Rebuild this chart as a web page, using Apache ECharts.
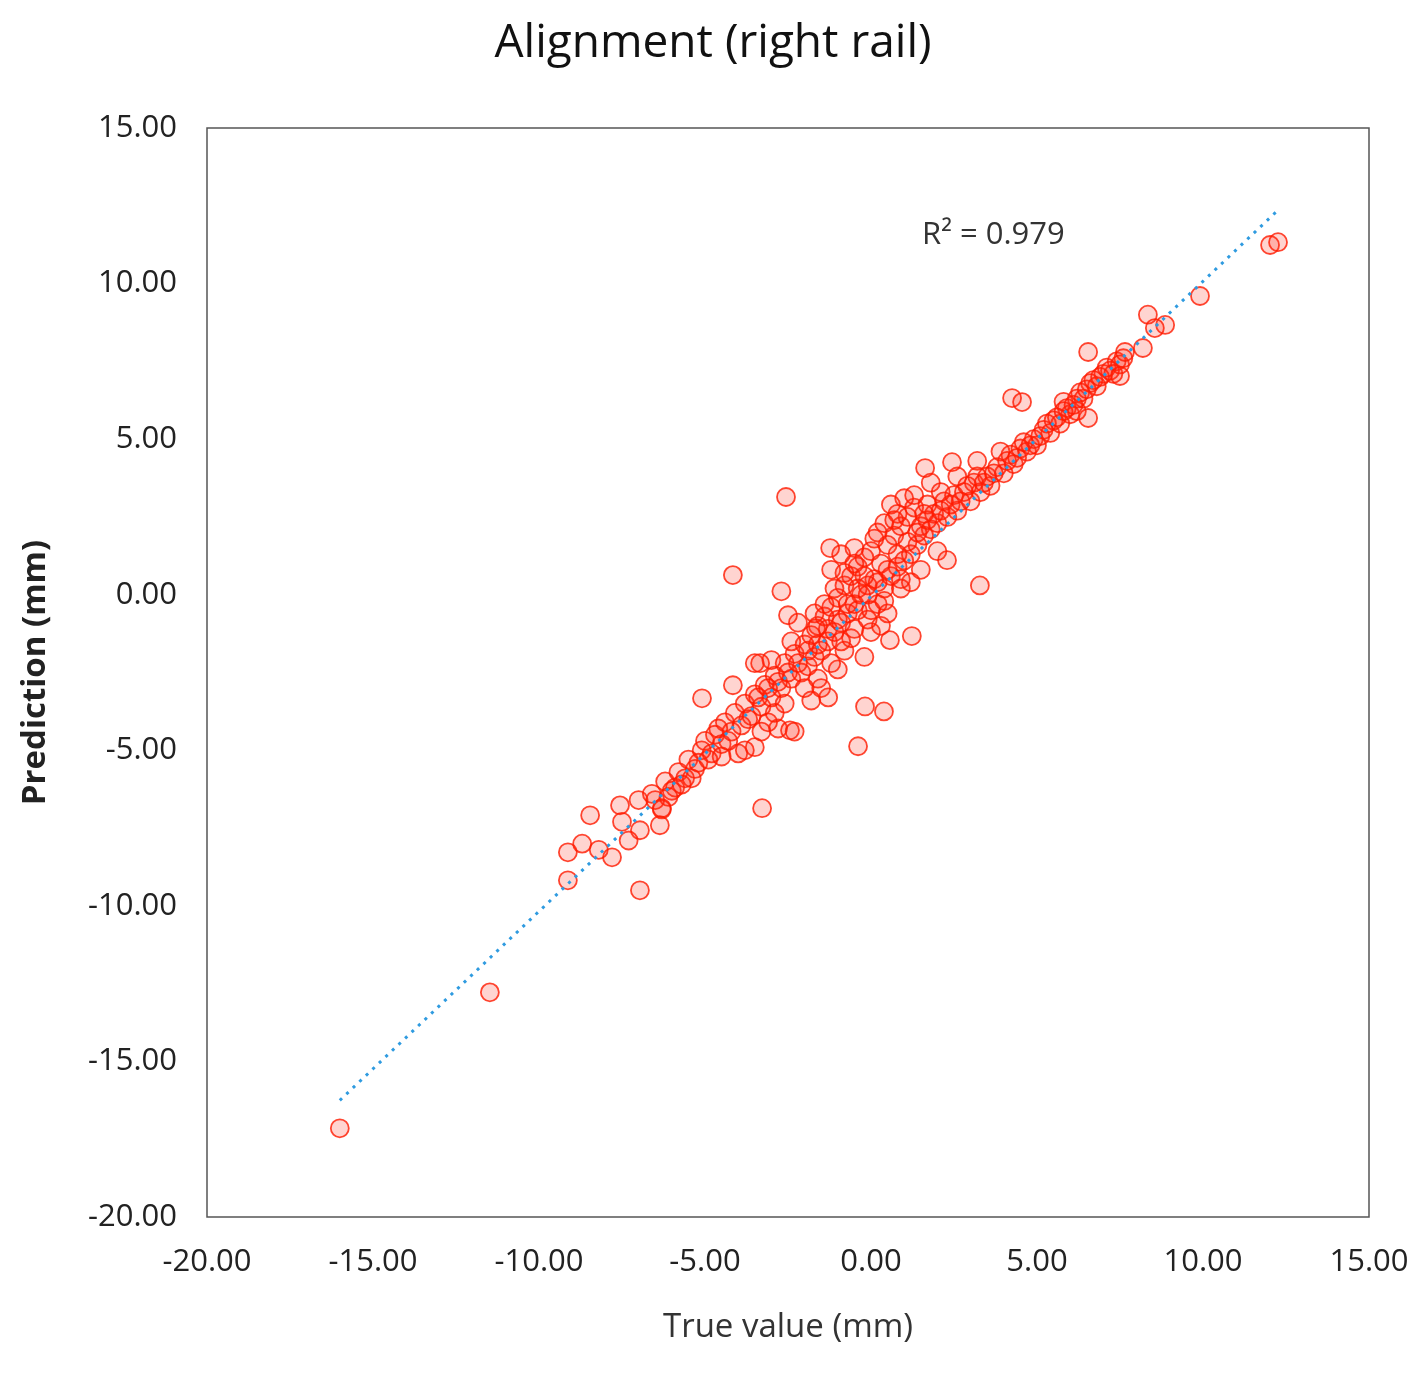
<!DOCTYPE html>
<html>
<head>
<meta charset="utf-8">
<script src="https://cdn.jsdelivr.net/npm/echarts@6/dist/echarts.min.js"></script>
<style>html,body{margin:0;padding:0;background:#fff}#ec{width:1426px;height:1373px}</style>
</head>
<body>
<div id="ec"></div>
<script>
// 轴刻度
var axisMin = -20;
var axisMax = 15;
var axisStep = 5;

// 离群点
var outlierPoints = [
  [-16.0,-17.15],[-11.48,-12.78],[-6.96,-9.5],[-9.13,-9.18],[-9.13,-8.28],[-8.46,-7.09],
  [-7.8,-8.44],[-7.56,-6.77],[-6.36,-7.41],[-6.3,-6.86],[-6.96,-7.57],[-7.5,-7.3],[-8.7,-8.0],
  [-2.56,3.14],[-4.16,0.63],[-2.7,0.11],[-3.28,-6.86],[-0.39,-4.87],[-0.18,-3.59],[0.39,-3.75],
  [3.28,0.3],[-5.09,-3.33],[9.91,9.6],[12.02,11.24],[12.26,11.33],[8.34,9.0],[8.86,8.67],
  [8.55,8.57],[6.54,7.8],[6.54,5.68],[4.25,6.32],[4.55,6.19],[8.19,7.93],[7.65,7.8],[7.5,7.03],
  [1.63,4.07],[2.44,4.26],[2.29,1.11],[-1.23,1.5],[1.23,-1.33],[0.57,-1.46],[-1.29,-3.3],
  [-2.44,-4.36],[-3.34,-2.2],[-4.16,-2.91],[-2.5,-0.66],[-1.66,-1.08],[-2.3,-4.4],[-3.8,-5.0],
  [-7.3,-7.9],[-8.2,-8.2],[-7.0,-6.6],[-6.6,-6.4]
];

// 对角线密集点
var clusterPoints = [
  [-6.2,-6.0],[-6.0,-6.3],[-5.8,-5.7],[-5.6,-5.9],[-5.5,-5.3],[-5.3,-5.6],[-5.1,-5.0],[-5.0,-4.7],
  [-4.8,-5.1],[-4.7,-4.5],[-4.5,-4.8],[-4.4,-4.1],[-4.2,-4.4],[-4.1,-3.8],[-3.9,-4.2],[-3.8,-3.5],
  [-3.6,-3.9],[-3.5,-3.2],[-3.3,-3.6],[-3.2,-2.9],[-3.0,-3.3],[-2.9,-2.6],[-2.7,-3.0],[-2.6,-2.2],
  [-2.4,-2.7],[-2.3,-1.9],[-2.1,-2.5],[-2.0,-1.6],[-1.9,-2.3],[-1.8,-1.3],[-1.7,-2.0],[-1.6,-1.0],
  [-1.5,-1.8],[-1.4,-0.7],[-1.3,-1.5],[-1.2,-0.4],[-1.1,-1.2],[-1.0,-0.1],[-0.9,-0.9],[-0.8,0.3],
  [-0.7,-0.6],[-0.6,0.6],[-0.5,-0.3],[-0.4,0.9],[-0.3,0.0],[-0.2,1.2],[-0.1,0.3],[0.0,1.4],
  [0.1,0.5],[0.2,-0.3],[0.3,1.0],[0.4,0.2],[0.5,1.6],[0.6,0.6],[0.7,1.9],[0.8,0.9],[0.9,2.2],
  [1.0,1.1],[1.1,2.5],[1.2,1.3],[1.3,2.8],[1.4,1.6],[1.5,2.2],[1.6,1.9],[1.7,2.9],[1.8,2.1],
  [1.9,2.6],[2.0,2.3],[2.2,3.0],[2.3,2.5],[2.5,3.2],[2.6,2.7],[2.8,3.3],[3.0,3.0],[3.1,3.6],
  [3.3,3.3],[3.5,3.8],[3.6,3.5],[3.8,4.1],[4.0,3.9],[4.2,4.5],[4.3,4.2],[4.5,4.7],[4.7,4.6],
  [4.9,5.0],[5.0,4.8],[5.2,5.3],[5.4,5.2],[5.5,5.6],[5.7,5.5],[5.9,6.0],[6.0,5.8],[6.2,6.3],
  [6.4,6.3],[6.6,6.8],[6.8,6.7],[7.0,7.1],[7.2,7.2],[7.4,7.5],[7.6,7.6],
  [-0.5,1.5],[-1.2,0.8],[-0.8,-1.8],[0.3,-1.0],[0.8,2.6],[-2.2,-0.9],[-1.8,-3.4],[-0.2,-2.0],
  [0.5,-0.6],[1.5,0.8],[-3.5,-2.2],[-2.8,-4.3],[-4.5,-5.2],[-4.0,-5.1],[-3.5,-4.9],[1.0,3.1],
  [1.8,3.6],[-0.9,1.3],[0.0,-1.2],[2.0,1.4],[-1.5,-3.0],[-1.0,-2.4],[-0.6,-1.4],[0.2,2.0],
  [0.6,2.9],[1.2,0.4],[2.6,3.8],[3.2,4.3],[3.9,4.6],[-0.1,-0.8],[-0.4,0.2],[0.9,0.2],
  [-2.6,-3.5],[-3.1,-4.1],[-5.4,-5.9],[-5.9,-6.2],[-6.5,-6.6],[-6.3,-6.9],[5.8,6.2],[6.2,5.9],
  [-6.1,-6.5],[-5.7,-6.1],[-5.2,-5.4],[-4.9,-5.3],[-4.6,-4.3],[-4.3,-4.7],[-3.7,-4.0],[-3.4,-3.3],
  [-3.1,-3.0],[-2.8,-2.8],[-2.5,-2.5],[-2.2,-2.2],[-1.9,-1.8],[-1.6,-1.6],[-1.3,-1.1],[-1.0,-0.8],
  [-0.7,-0.3],[-0.4,-0.5],[-0.1,0.0],[0.2,0.4],[0.5,0.8],[0.8,1.3],[1.1,1.7],[1.4,2.0],
  [1.7,2.4],[2.1,2.7],[2.4,2.9],[2.7,3.0],[2.9,3.5],[3.2,3.8],[3.4,3.6],[3.7,3.9],
  [4.1,4.3],[4.4,4.4],[4.6,4.9],[4.8,4.8],[5.1,5.1],[5.3,5.5],[5.6,5.7],[5.8,5.9],
  [6.1,6.1],[6.3,6.5],[6.5,6.6],[6.7,6.9],[6.9,7.0],[7.1,7.3],[7.3,7.1],[7.5,7.4],
  [-1.7,-0.6],[-1.4,-0.3],[-1.1,0.2],[-0.8,0.7],[-0.5,1.0],[-0.2,0.6],[0.1,1.8],[0.4,2.3],
  [-2.0,-3.0],[-1.6,-2.7],[-1.2,-2.2],[-0.9,-1.5],[-0.5,-1.1],[0.0,-0.5],[0.4,-0.2],[0.9,0.5],
  [-2.9,-3.8],[-3.3,-4.4],[-2.4,-1.5],[-3.0,-2.1],[1.6,2.6],[2.1,3.3],[0.7,2.4],[1.3,3.2]
];

// 趋势线端点
var trendLine = [[-16.0,-16.25],[12.2,12.3]];

// 决定系数
var r2Text = 'R² = 0.979';

var ec = echarts.init(document.getElementById('ec'));

var dotStyle = {
  color: 'rgba(255,40,20,0.25)',
  borderColor: '#ff1a00',
  borderWidth: 1.8
};

var axisLabelStyle = {
  fontSize: 31,
  color: '#222',
  fontFamily: 'Open Sans',
  formatter: function(v) { return v.toFixed(2); }
};

var option = {
  backgroundColor: '#fff',
  title: {
    text: 'Alignment (right rail)',
    left: 'center',
    top: 16,
    textStyle: { fontSize: 46, fontWeight: 'normal', color: '#111', fontFamily: 'Open Sans' }
  },
  grid: {
    left: 207, right: 57, top: 128, bottom: 156,
    show: true, borderColor: '#555', borderWidth: 1.5
  },
  xAxis: {
    type: 'value', min: axisMin, max: axisMax, interval: axisStep,
    name: 'True value (mm)', nameLocation: 'middle', nameGap: 94,
    nameTextStyle: { fontSize: 33, color: '#333', fontFamily: 'Open Sans' },
    axisLine: { show: false }, axisTick: { show: false }, splitLine: { show: false },
    axisLabel: Object.assign({ margin: 30 }, axisLabelStyle)
  },
  yAxis: {
    type: 'value', min: axisMin, max: axisMax, interval: axisStep,
    name: 'Prediction (mm)', nameLocation: 'middle', nameGap: 155,
    nameTextStyle: { fontSize: 33, color: '#222', fontWeight: 'bold', fontFamily: 'Open Sans' },
    axisLine: { show: false }, axisTick: { show: false }, splitLine: { show: false },
    axisLabel: Object.assign({ margin: 30 }, axisLabelStyle)
  },
  series: [
    {
      type: 'scatter', symbolSize: 18, itemStyle: dotStyle,
      data: clusterPoints.concat(outlierPoints)
    },
    {
      type: 'line', data: trendLine, symbol: 'none', z: 3,
      lineStyle: { color: '#2f9be0', width: 3, type: [3, 6] }
    }
  ],
  graphic: [{
    type: 'text', left: 922, top: 220,
    style: { text: r2Text, fontSize: 31, fill: '#333', fontFamily: 'Open Sans' }
  }]
};
ec.setOption(option);
</script>
</body>
</html>
